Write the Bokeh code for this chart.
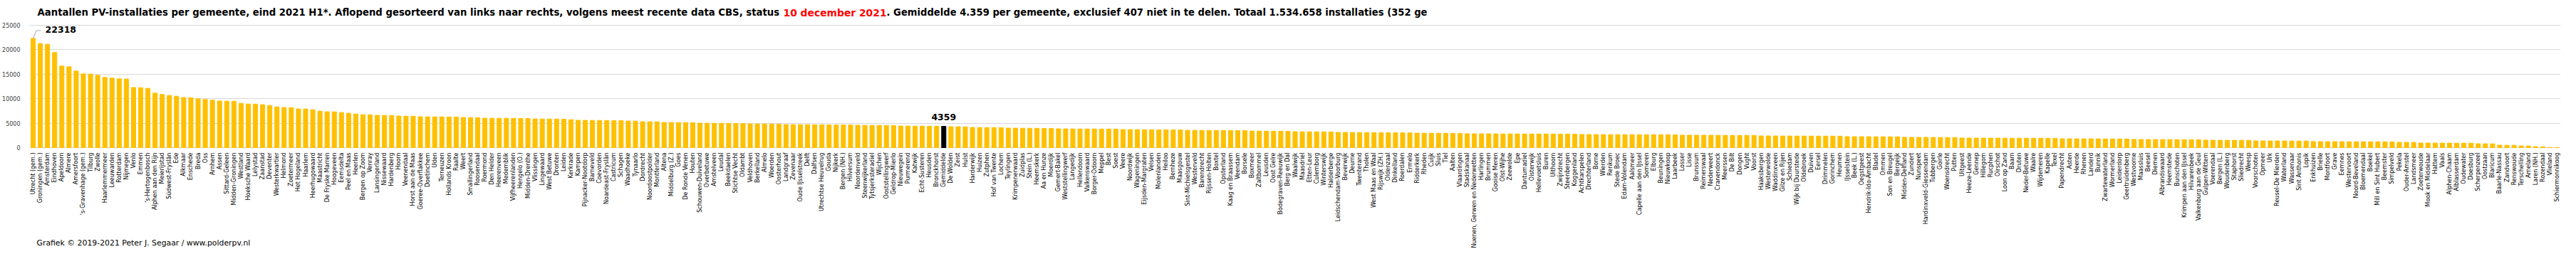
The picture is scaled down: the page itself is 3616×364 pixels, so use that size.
from math import pi
from bokeh.plotting import figure
from bokeh.models import FactorRange, Range1d, Label, ColumnDataSource, FixedTicker
from bokeh.embed import file_html
from bokeh.resources import INLINE
from bokeh.core.properties import value

names = [
"Utrecht (gem.)","Groningen (gem.)","Amsterdam","Eindhoven","Apeldoorn","Almere","Amersfoort","'s-Gravenhage (gem.)","Tilburg","Zwolle",
"Haarlemmermeer","Leeuwarden","Rotterdam","Nijmegen","Venlo","Emmen","'s-Hertogenbosch","Alphen aan den Rijn","Meierijstad","Súdwest-Fryslân",
"Ede","Alkmaar","Enschede","Breda","Oss","Arnhem","Assen","Sittard-Geleen","Midden-Groningen","Westland",
"Hoeksche Waard","Lelystad","Zaanstad","Deventer","Westerkwartier","Helmond","Zoetermeer","Het Hogeland","Haarlem","Heerhugowaard",
"Maastricht","De Fryske Marren","Hoogeveen","Eemsdelta","Peel en Maas","Heerlen","Bergen op Zoom","Venray","Lansingerland","Nissewaard",
"Hardenberg","Hoorn","Veenendaal","Horst aan de Maas","Goeree-Overflakkee","Doetinchem","Uden","Terneuzen","Hollands Kroon","Raalte",
"Weert","Smallingerland","Roosendaal","Roermond","Den Helder","Heerenveen","Medemblik","Vijfheerenlanden","Hengelo (O.)","Midden-Drenthe",
"Vlissingen","Lingewaard","West Betuwe","Dronten","Leiden","Kerkrade","Kampen","Pijnacker-Nootdorp","Barneveld","Coevorden",
"Noardeast-Fryslân","Castricum","Schagen","Waadhoeke","Tynaarlo","Dordrecht","Noordoostpolder","Montferland","Altena","Middelburg (Z.)",
"Goes","De Ronde Venen","Houten","Schouwen-Duiveland","Overbetuwe","Amstelveen","Leudal","Beekdaelen","Stichtse Vecht","Oldambt",
"Veldhoven","Berkelland","Almelo","Woerden","Oosterhout","Landgraaf","Zevenaar","Oude IJsselstreek","Delft","Dalfsen",
"Utrechtse Heuvelrug","Gouda","Nijkerk","Bergen (NH.)","Hilversum","Noordenveld","Steenwijkerland","Tytsjerksteradiel","Wijchen","Ooststellingwerf",
"Geldrop-Mierlo","Nieuwegein","Purmerend","Katwijk","Echt-Susteren","Heusden","Bronckhorst","Gemiddelde","De Wolden","Zeist",
"Hulst","Harderwijk","Huizen","Zutphen","Hof van Twente","Lochem","Teylingen","Krimpenerwaard","Zuidplas","Stein (L.)",
"Heemskerk","Aa en Hunze","Moerdijk","Gemert-Bakel","Weststellingwerf","Langedijk","Hellendoorn","Valkenswaard","Borger-Odoorn","Meppel",
"Best","Soest","Veere","Noordwijk","Wageningen","Eijsden-Margraten","Velsen","Molenlanden","Heiloo","Bernheze",
"Maasgouw","Sint-Michielsgestel","Westerveld","Barendrecht","Rijssen-Holten","Boxtel","Opsterland","Kaag en Braassem","Veendam","Borsele",
"Boxmeer","Zaltbommel","Leusden","Oost Gelre","Bodegraven-Reeuwijk","Berg en Dal","Waalwijk","Maasdriel","Etten-Leur","Culemborg",
"Winterswijk","Halderberge","Leidschendam-Voorburg","Beverwijk","Deurne","Twenterand","Tholen","West Maas en Waal","Rijswijk (ZH.)","Oldenzaal",
"Dinkelland","Roerdalen","Ermelo","Ridderkerk","Rheden","Cuijk","Sluis","Tiel","Aalten","Vlaardingen",
"Stadskanaal","Nuenen, Gerwen en Nederwetten","Harlingen","Brummen","Gooise Meren","Olst-Wijhe","Zeewolde","Epe","Dantumadiel","Oisterwijk",
"Hellevoetsluis","Buren","Uithoorn","Zwijndrecht","Steenbergen","Koggenland","Achtkarspelen","Drechterland","Borne","Wierden",
"Renkum","Stede Broec","Edam-Volendam","Aalsmeer","Capelle aan den IJssel","Someren","Elburg","Beuningen","Nieuwkoop","Laarbeek",
"Losser","Lisse","Brunssum","Reimerswaal","Nederweert","Cranendonck","Meerssen","De Bilt","Dongen","Vught",
"Voorst","Haaksbergen","Westerwolde","Waddinxveen","Gilze en Rijen","Schiedam","Wijk bij Duurstede","Oldebroek","Duiven","Eersel",
"Drimmelen","Gorinchem","Heumen","IJsselstein","Beek (L.)","Oegstgeest","Hendrik-Ido-Ambacht","Bladel","Ommen","Son en Breugel",
"Bergeijk","Midden-Delfland","Zundert","Nunspeet","Hardinxveld-Giessendam","Tubbergen","Goirle","Woensdrecht","Putten","Uitgeest",
"Heeze-Leende","Gennep","Hillegom","Rucphen","Oirschot","Loon op Zand","Baarn","Druten","Neder-Betuwe","Waalre",
"Wijdemeren","Kapelle","Texel","Papendrecht","Asten","Heerde","Rhenen","Landerd","Bunnik","Zwartewaterland",
"Wormerland","Leiderdorp","Geertruidenberg","Westvoorne","Maassluis","Beesel","Diemen","Albrandswaard","Heemstede","Bunschoten",
"Krimpen aan den IJssel","Hilvarenbeek","Valkenburg aan de Geul","Gulpen-Wittem","Voerendaal","Bergen (L.)","Woudenberg","Staphorst","Sliedrecht","Weesp",
"Voorschoten","Opmeer","Urk","Reusel-De Mierden","Waterland","Wassenaar","Sint Anthonis","Lopik","Enkhuizen","Brielle",
"Montfoort","Grave","Eemnes","Westervoort","Noord-Beveland","Bloemendaal","Boekel","Mill en Sint Hubert","Beemster","Simpelveld",
"Pekela","Ouder-Amstel","Landsmeer","Zoeterwoude","Mook en Middelaar","Hattem","Vaals","Alphen-Chaam","Alblasserdam","Oudewater",
"Doesburg","Scherpenzeel","Oostzaan","Blaricum","Baarle-Nassau","Zandvoort","Renswoude","Terschelling","Ameland","Laren (NH.)",
"Rozendaal","Vlieland","Schiermonnikoog"]

installaties = [
22318, 21270, 21120, 19430, 16670, 16520, 15650, 15070, 15020, 14780,
14340, 14200, 14050, 14010, 12280, 12250, 12110, 11140, 10850, 10660,
10510, 10230, 10210, 9980, 9840, 9690, 9520, 9500, 9480, 9060,
8920, 8900, 8770, 8620, 8330, 8200, 8180, 7910, 7890, 7750,
7460, 7330, 7310, 7170, 7030, 6880, 6740, 6720, 6600, 6590,
6580, 6450, 6440, 6430, 6310, 6300, 6290, 6280, 6270, 6260,
6160, 6150, 6140, 6020, 6010, 6000, 5990, 5980, 5970, 5960,
5870, 5860, 5850, 5840, 5830, 5720, 5590, 5580, 5570, 5560,
5550, 5540, 5530, 5440, 5420, 5300, 5290, 5280, 5150, 5140,
5130, 5120, 5110, 5000, 4990, 4980, 4970, 4960, 4950, 4940,
4850, 4840, 4830, 4820, 4810, 4720, 4710, 4700, 4690, 4680,
4670, 4660, 4650, 4640, 4630, 4570, 4560, 4550, 4540, 4530,
4520, 4420, 4410, 4385, 4380, 4375, 4370, 4359, 4290, 4270,
4250, 4130, 4120, 4110, 4100, 4090, 3990, 3980, 3970, 3960,
3950, 3940, 3930, 3850, 3840, 3830, 3820, 3815, 3810, 3805,
3800, 3795, 3700, 3690, 3680, 3670, 3660, 3650, 3640, 3630,
3620, 3550, 3540, 3530, 3520, 3510, 3500, 3490, 3480, 3470,
3400, 3390, 3380, 3370, 3360, 3350, 3260, 3250, 3240, 3230,
3220, 3210, 3120, 3110, 3100, 3090, 3080, 3070, 3060, 3050,
3040, 3030, 3020, 2970, 2960, 2950, 2940, 2930, 2920, 2910,
2840, 2835, 2830, 2825, 2820, 2815, 2810, 2805, 2800, 2795,
2790, 2785, 2780, 2775, 2770, 2765, 2690, 2685, 2680, 2675,
2670, 2665, 2660, 2655, 2650, 2645, 2640, 2635, 2630, 2625,
2550, 2545, 2540, 2535, 2530, 2525, 2520, 2515, 2510, 2505,
2500, 2400, 2395, 2390, 2385, 2380, 2375, 2370, 2365, 2360,
2355, 2350, 2345, 2250, 2245, 2240, 2235, 2230, 2225, 2220,
2215, 2110, 2105, 2100, 2095, 2090, 2085, 2080, 2075, 1970,
1965, 1960, 1955, 1950, 1945, 1940, 1935, 1930, 1925, 1920,
1915, 1910, 1905, 1820, 1815, 1810, 1805, 1800, 1795, 1790,
1785, 1780, 1775, 1680, 1675, 1670, 1665, 1660, 1655, 1650,
1645, 1640, 1635, 1530, 1525, 1520, 1515, 1510, 1505, 1500,
1390, 1385, 1380, 1375, 1370, 1365, 1360, 1355, 1240, 1235,
1230, 1225, 1220, 1215, 1210, 1205, 1200, 1195, 1190, 1185,
1090, 1080, 1070, 950, 945, 940, 935, 930, 925, 920,
915, 800, 790, 780, 500, 490, 480, 350, 340, 200,
190, 40, 30]

y_ticks = [0, 5000, 10000, 15000, 20000, 25000]
y_max_tick = 25000
gemiddelde_label = "Gemiddelde"
gemiddelde_waarde = 4359

title_part1 = "Aantallen PV-installaties per gemeente, eind 2021 H1*. Aflopend gesorteerd van links naar rechts, volgens meest recente data CBS, status "
title_part2 = "10 december 2021"
title_part3 = ". Gemiddelde 4.359 per gemeente, exclusief 407 niet in te delen. Totaal 1.534.658 installaties (352 ge"
footer = "Grafiek \u00a9 2019-2021 Peter J. Segaar / www.polderpv.nl"


def fit_size(txt, target_px, base, lo, hi, bold):
    """Font size (px) for which txt is about target_px wide in DejaVu Sans."""
    try:
        from PIL import ImageFont
        f = ImageFont.truetype("DejaVuSans-Bold.ttf" if bold else "DejaVuSans.ttf", 200)
        w = f.getlength(txt) * base / 200.0
        s = base * target_px / w
        return max(lo, min(hi, s))
    except Exception:
        return base


BAR = "#FFC000"
colors = ["#000000" if n == gemiddelde_label else BAR for n in names]
src = ColumnDataSource(dict(x=names, top=installaties, color=colors,
                            base=[0] * len(names)))

# layout (pixels)
W, H = 3600, 356
BL, BR = 34, 6
FRAME_W = W - BL - BR
ZERO_FROM_TOP = 207      # zero line, px from figure top
TOP_TICK_FROM_TOP = 35   # 25000 line, px from figure top
val_per_px = y_max_tick / (ZERO_FROM_TOP - TOP_TICK_FROM_TOP)
y_hi = y_max_tick + TOP_TICK_FROM_TOP * val_per_px
y_lo = -(H - ZERO_FROM_TOP) * val_per_px

p = figure(width=W, height=H, x_range=FactorRange(factors=names), y_range=Range1d(y_lo, y_hi),
           output_backend="svg", toolbar_location=None, x_axis_location=None, title=None,
           min_border_left=BL, min_border_right=BR, min_border_top=0, min_border_bottom=0)
p.outline_line_color = None
p.background_fill_color = "white"
p.border_fill_color = "white"

p.vbar(x="x", top="top", width=0.6, color="color", source=src)

p.xgrid.grid_line_color = None
p.ygrid.grid_line_color = "#D9D9D9"
p.ygrid.ticker = FixedTicker(ticks=y_ticks)
p.yaxis.ticker = FixedTicker(ticks=y_ticks)
p.yaxis.axis_line_color = None
p.yaxis.major_tick_line_color = None
p.yaxis.minor_tick_line_color = None
p.yaxis.major_label_text_font = "DejaVu Sans"
p.yaxis.major_label_text_font_size = "8px"
p.yaxis.major_label_text_color = "#404040"
p.yaxis.major_label_standoff = 7

# category labels below the zero line, rotated to read upward
p.text(x="x", y="base", text="x", source=src, angle=pi / 2, text_align="right",
       text_baseline="middle", y_offset=7, text_font=value("DejaVu Sans"),
       text_font_size="8px", text_color="#000000")

# title in three runs (middle run red), placed where they sit in the original
title_y = H - 17
runs = [(title_part1, 11, 1047, "#000000"), (title_part2, 1058, 145, "#FF0000"),
        (title_part3, 1203, 760, "#000000")]
for txt, tx, target, col in runs:
    fs = fit_size(txt, target, 13.0, 12.5, 14.0, True)
    p.add_layout(Label(x=tx, y=title_y, x_units="screen", y_units="screen", text=txt,
                       text_font="DejaVu Sans", text_font_style="bold",
                       text_font_size="%.2fpx" % fs,
                       text_baseline="middle", text_color=col))

fs_footer = fit_size(footer, 300, 11.0, 10.0, 12.5, False)
p.add_layout(Label(x=10, y=H - 341, x_units="screen", y_units="screen", text=footer,
                   text_font="DejaVu Sans", text_font_size="%.2fpx" % fs_footer,
                   text_baseline="middle", text_color="#000000"))

# max value annotation with leader line
px_per_cat = FRAME_W / len(names)
top_val = installaties[0]
lx = [0.5, 0.5 + 4.5 / px_per_cat, 0.5 + 11 / px_per_cat]
ly = [top_val, top_val + 11 * val_per_px, top_val + 11 * val_per_px]
p.line(x=lx, y=ly, line_color="#A6A6A6", line_width=1)
p.add_layout(Label(x=0.5, y=top_val, x_offset=17, y_offset=12, text=str(top_val),
                   text_font="DejaVu Sans", text_font_style="bold", text_font_size="12.5px",
                   text_baseline="middle", text_align="left", text_color="#000000"))

gi = names.index(gemiddelde_label)
p.add_layout(Label(x=gi + 0.5, y=installaties[gi], y_offset=13, text=str(gemiddelde_waarde),
                   text_font="DejaVu Sans", text_font_style="bold", text_font_size="12.5px",
                   text_baseline="middle", text_align="center", text_color="#000000"))

open("out.html", "w").write(file_html(p, INLINE))
